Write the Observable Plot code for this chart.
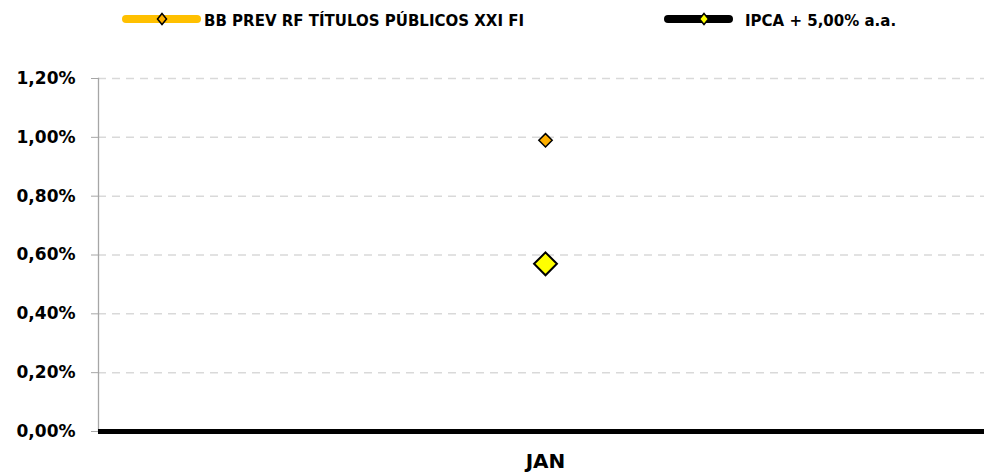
<!DOCTYPE html>
<html>
<head>
<meta charset="utf-8">
<script src="https://cdn.jsdelivr.net/npm/d3@7"></script>
<script src="https://cdn.jsdelivr.net/npm/@observablehq/plot@0.6"></script>
<style>
  body { margin: 0; background: #fff; font-family: "DejaVu Sans", sans-serif; }
  #legend svg { display: block; }
  #chart svg { display: block; }
</style>
</head>
<body>
<div id="legend"></div>
<div id="chart"></div>
<script>
// ---- data ----
const months = ["JAN"];
const seriesNames = ["BB PREV RF TÍTULOS PÚBLICOS XXI FI", "IPCA + 5,00% a.a."];
const fundValues = [0.99];       // % per month
const benchmarkValues = [0.57];  // % per month
const yTicks = [0, 0.2, 0.4, 0.6, 0.8, 1.0, 1.2];

// ---- styles ----
const lineColors = ["#FFC000", "#000000"];
const markerFills = ["#FFB000", "#FFFF00"];
const fmt = d => d.toFixed(2).replace(".", ",") + "%";

const fundData = months.map((m, i) => ({ month: m, value: fundValues[i] }));
const benchData = months.map((m, i) => ({ month: m, value: benchmarkValues[i] }));

// ---- legend (above the chart) ----
const legendItems = [
  { name: seriesNames[0], lx1: 126, lx2: 197, mx: 162, tx: 204, line: lineColors[0], fill: markerFills[0] },
  { name: seriesNames[1], lx1: 668, lx2: 729, mx: 704, tx: 745, line: lineColors[1], fill: markerFills[1] }
];
const lg = d3.select("#legend").append("svg").attr("width", 984).attr("height", 40);
const ly = 19;
legendItems.forEach(it => {
  lg.append("line").attr("x1", it.lx1).attr("x2", it.lx2).attr("y1", ly).attr("y2", ly)
    .attr("stroke", it.line).attr("stroke-width", 8).attr("stroke-linecap", "round");
  lg.append("path")
    .attr("d", `M${it.mx},${ly - 5.5}L${it.mx + 4.5},${ly}L${it.mx},${ly + 5.5}L${it.mx - 4.5},${ly}Z`)
    .attr("fill", it.fill).attr("stroke", "#000").attr("stroke-width", 1.5);
  lg.append("text").attr("x", it.tx).attr("y", 26)
    .attr("font-family", "DejaVu Sans").attr("font-weight", "bold").attr("font-size", 15)
    .attr("fill", "#000").text(it.name);
});

// ---- chart ----
const chart = Plot.plot({
  width: 984,
  height: 436,
  marginTop: 38,
  marginBottom: 45,
  marginLeft: 98,
  marginRight: 0,
  style: { fontFamily: "DejaVu Sans", fontWeight: "bold", fontSize: "17px", color: "#000", background: "#fff" },
  x: { domain: months, type: "band", range: [106, 984] },
  y: { domain: [0, 1.2] },
  marks: [
    Plot.gridY(yTicks.filter(d => d > 0), { stroke: "#d9d9d9", strokeOpacity: 1, strokeWidth: 1.5, strokeDasharray: "8,6" }),
    Plot.frame({ anchor: "left", stroke: "#a6a6a6", strokeWidth: 1.3 }),
    Plot.axisY(yTicks, { tickSize: 7, tickPadding: 16, stroke: "#a6a6a6", tickFormat: fmt, fontSize: 17, fontWeight: "bold", fill: "#000", label: null }),
    Plot.axisX({ tickSize: 0, tickPadding: 22, fontSize: 20, fontWeight: "bold", fill: "#000", label: null }),
    Plot.ruleY([0], { stroke: "#000", strokeWidth: 5 }),
    Plot.dot(fundData, { x: "month", y: "value", symbol: "diamond2", r: 6, fill: markerFills[0], stroke: "#000", strokeWidth: 1.5 }),
    Plot.dot(benchData, { x: "month", y: "value", symbol: "diamond2", r: 10.3, fill: markerFills[1], stroke: "#000", strokeWidth: 2 })
  ]
});
document.getElementById("chart").appendChild(chart);
</script>
</body>
</html>
